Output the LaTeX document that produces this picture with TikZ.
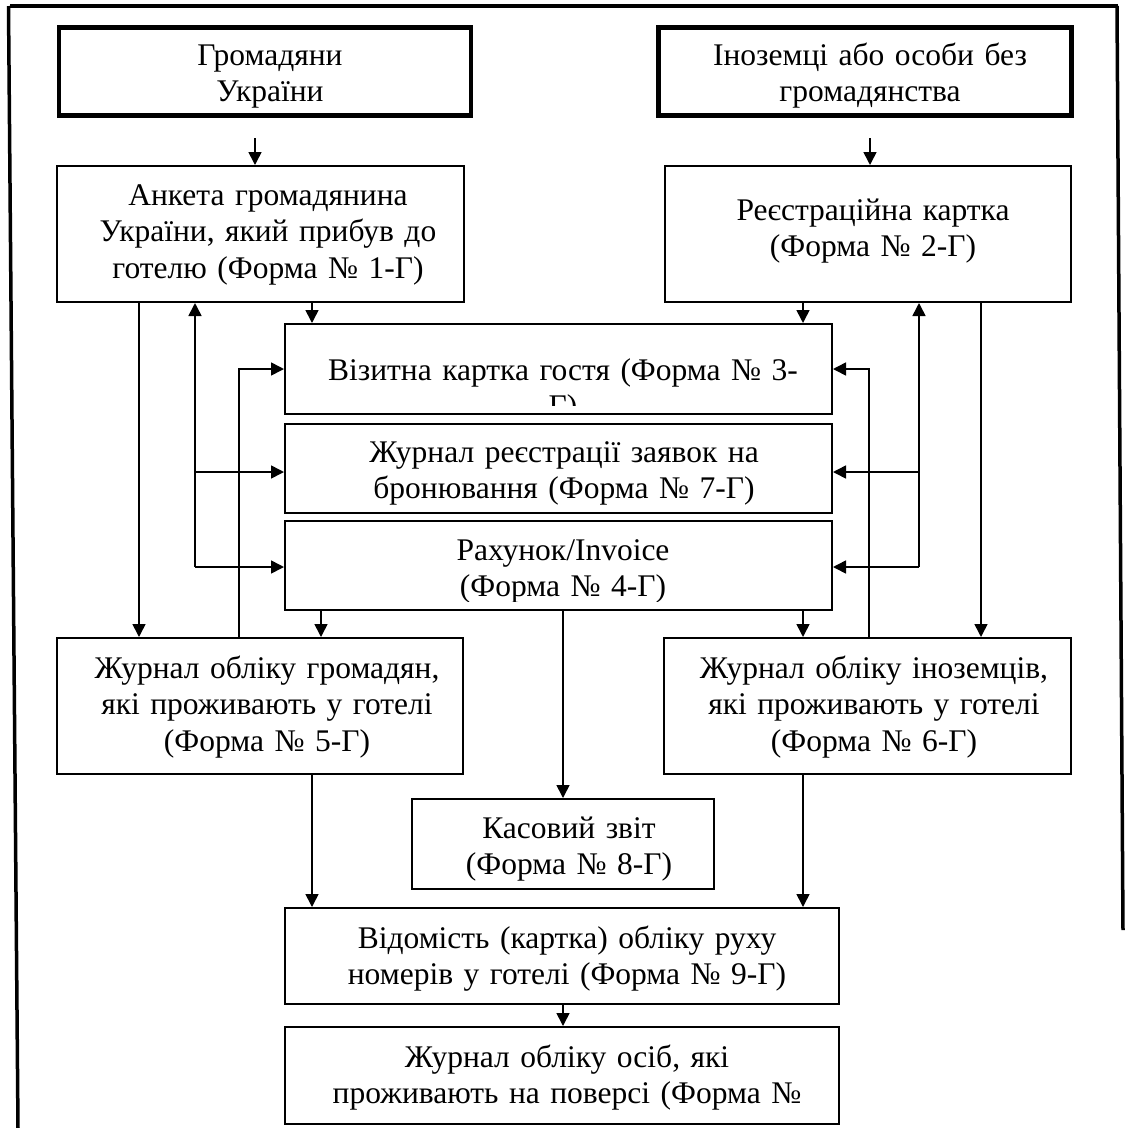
\documentclass[tikz,border=0pt]{standalone}
\usepackage{fontspec}
\setmainfont{Liberation Serif}
\usetikzlibrary{arrows.meta}
\newcommand{\boxtext}[4]{%
  \begin{scope}
    \clip (#1.north west) rectangle ([yshift=10pt]#1.south east);
    \node[txt] (#2) at (#3) {#4};
  \end{scope}}
\begin{document}
\begin{tikzpicture}[x=1pt,y=-1pt,
  box/.style={draw, line width=2pt, inner sep=0pt, anchor=north west},
  tbox/.style={box, line width=4.5pt},
  txt/.style={font=\fontsize{31.5}{36.5}\selectfont, text width=600pt, align=center, inner sep=0pt, anchor=base},
  conn/.style={line width=1.6pt},
  arr/.style={conn, -{Triangle[length=13pt,width=13pt]}},
  frame/.style={line width=3.5pt}]
\useasboundingbox (0,0) rectangle (1126,1128);
% outer frame
\draw[frame] (10,6) -- (1118,6);
\draw[frame] (8.5,6) -- (18,1128);
\draw[frame] (1117,6) -- (1123,930);
% boxes
\node[tbox, minimum width=412pt, minimum height=88pt] (b1) at (56.5,25) {};
\node[tbox, minimum width=413pt, minimum height=88pt] (b2) at (656,25) {};
\node[box, minimum width=407pt, minimum height=136pt] (b3) at (56,165) {};
\node[box, minimum width=406pt, minimum height=136pt] (b4) at (664,165) {};
\node[box, minimum width=547pt, minimum height=90pt] (b5) at (284,323) {};
\node[box, minimum width=547pt, minimum height=89pt] (b6) at (284,423) {};
\node[box, minimum width=547pt, minimum height=89pt] (b7) at (284,520) {};
\node[box, minimum width=406pt, minimum height=136pt] (b8) at (56,637) {};
\node[box, minimum width=407pt, minimum height=136pt] (b9) at (663,637) {};
\node[box, minimum width=302pt, minimum height=90pt] (b10) at (411,798) {};
\node[box, minimum width=554pt, minimum height=96pt] (b11) at (284,907) {};
\node[box, minimum width=554pt, minimum height=97pt] (b12) at (284,1026) {};
% texts (clipped like the original text boxes)
\boxtext{b1}{t1}{270,65}{Громадяни\\України}
\boxtext{b2}{t2}{870,65}{Іноземці або особи без\\громадянства}
\boxtext{b3}{t3}{268,205}{Анкета громадянина\\України, який прибув до\\готелю (Форма № 1-Г)}
\boxtext{b4}{t4}{873,220}{Реєстраційна картка\\(Форма № 2-Г)}
\boxtext{b5}{t5}{563,380}{Візитна картка гостя (Форма № 3-\\Г)}
\boxtext{b6}{t6}{564,462}{Журнал реєстрації заявок на\\бронювання (Форма № 7-Г)}
\boxtext{b7}{t7}{563,560}{Рахунок/Invoice\\(Форма № 4-Г)}
\boxtext{b8}{t8}{267,678}{Журнал обліку громадян,\\які проживають у готелі\\(Форма № 5-Г)}
\boxtext{b9}{t9}{874,678}{Журнал обліку іноземців,\\які проживають у готелі\\(Форма № 6-Г)}
\boxtext{b10}{t10}{569,838}{Касовий звіт\\(Форма № 8-Г)}
\boxtext{b11}{t11}{567,948}{Відомість (картка) обліку руху\\номерів у готелі (Форма № 9-Г)}
\boxtext{b12}{t12}{567,1067}{Журнал обліку осіб, які\\проживають на поверсі (Форма №}
% helper columns / rows
\coordinate (a1) at (255,138);
\coordinate (a2) at (870,138);
\coordinate (c139) at (139,0);
\coordinate (c195) at (195,0);
\coordinate (c239) at (239,0);
\coordinate (c312) at (312,0);
\coordinate (c321) at (321,0);
\coordinate (c563) at (563,0);
\coordinate (c803) at (803,0);
\coordinate (c869) at (869,0);
\coordinate (c919) at (919,0);
\coordinate (c981) at (981,0);
\coordinate (r472) at (0,472);
\coordinate (r567) at (0,567);
% connectors
\draw[arr] (a1) -- (a1 |- b3.north);
\draw[arr] (a2) -- (a2 |- b4.north);
\draw[arr] (b3.south -| c312) -- (b5.north -| c312);
\draw[arr] (b4.south -| c803) -- (b5.north -| c803);
\draw[arr] (b3.south -| c139) -- (b8.north -| c139);
\draw[arr] (b4.south -| c981) -- (b9.north -| c981);
\draw[arr] (c195 |- r567) -- (b3.south -| c195);
\draw[arr] (c195 |- r472) -- (b6.west |- r472);
\draw[arr] (c195 |- r567) -- (b7.west |- r567);
\draw[arr] (b8.north -| c239) |- (b5.west);
\draw[arr] (c919 |- r567) -- (b4.south -| c919);
\draw[arr] (c919 |- r472) -- (b6.east |- r472);
\draw[arr] (c919 |- r567) -- (b7.east |- r567);
\draw[arr] (b9.north -| c869) |- (b5.east);
\draw[arr] (b7.south -| c321) -- (b8.north -| c321);
\draw[arr] (b7.south -| c803) -- (b9.north -| c803);
\draw[arr] (b7.south -| c563) -- (b10.north -| c563);
\draw[arr] (b8.south -| c312) -- (b11.north -| c312);
\draw[arr] (b9.south -| c803) -- (b11.north -| c803);
\draw[arr] (b11.south -| c563) -- (b12.north -| c563);
\end{tikzpicture}
\end{document}
